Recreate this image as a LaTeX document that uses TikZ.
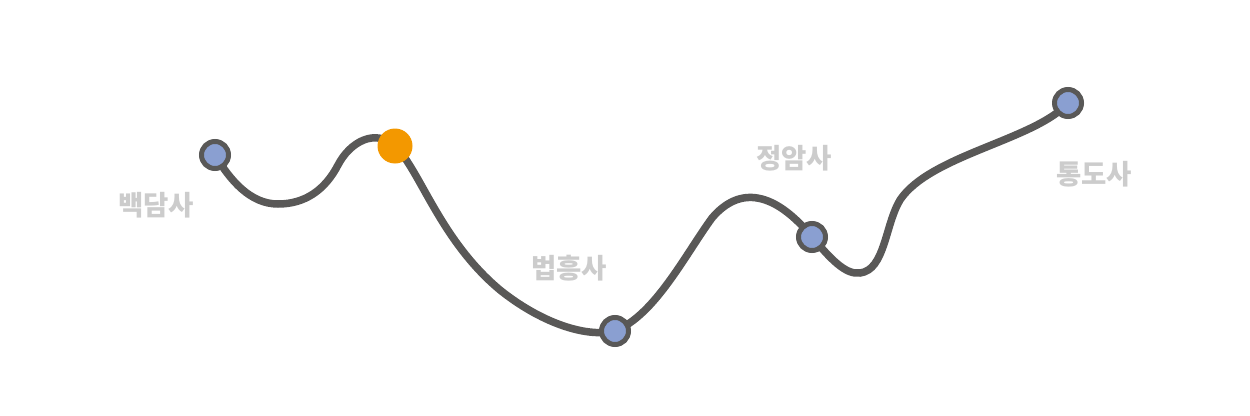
\documentclass[tikz,border=0pt]{standalone}
\usepackage{fontspec}
\newfontfamily\kr{Noto Sans CJK KR}
\definecolor{linegray}{HTML}{595857}
\definecolor{nodeblue}{HTML}{8A9FD1}
\definecolor{dotorange}{HTML}{F39800}
\definecolor{labelgray}{HTML}{CCCCCC}
\begin{document}
\begin{tikzpicture}[x=1pt,y=-1pt,
  route/.style={draw=linegray,line width=7.5pt,line cap=round},
  stop/.style={circle,draw=linegray,line width=5pt,fill=nodeblue,minimum size=27pt,inner sep=0pt},
  here/.style={circle,fill=dotorange,minimum size=35pt,inner sep=0pt},
  lbl/.style={text=labelgray,font=\kr\bfseries\fontsize{27.5}{32}\selectfont,inner sep=0pt}]
\useasboundingbox (0,0) rectangle (1250,415);
\coordinate (s1) at (215,155);
\coordinate (cur) at (395,146);
\coordinate (s2) at (615,331);
\coordinate (s3) at (812,237);
\coordinate (s4) at (1068,103);
\draw[route] (s1) .. controls (230,180) and (250,204) .. (278,204)
  .. controls (305,204) and (325,190) .. (338,165)
  .. controls (350,142) and (375,128) .. (cur)
  .. controls (420,170) and (440,240) .. (500,290)
  .. controls (540,322) and (585,338) .. (s2)
  .. controls (655,315) and (685,255) .. (712,218)
  .. controls (740,185) and (775,192) .. (s3)
  .. controls (830,258) and (845,275) .. (860,273)
  .. controls (885,270) and (885,225) .. (900,200)
  .. controls (930,155) and (1035,140) .. (s4);
\node[stop] (n1) at (s1) {};
\node[here] (n0) at (cur) {};
\node[stop] (n2) at (s2) {};
\node[stop] (n3) at (s3) {};
\node[stop] (n4) at (s4) {};
\node[lbl] (l1) at (156,205) {백담사};
\node[lbl] (l2) at (569,268) {법흥사};
\node[lbl] (l3) at (794,158) {정암사};
\node[lbl] (l4) at (1094,174) {통도사};
\end{tikzpicture}
\end{document}
